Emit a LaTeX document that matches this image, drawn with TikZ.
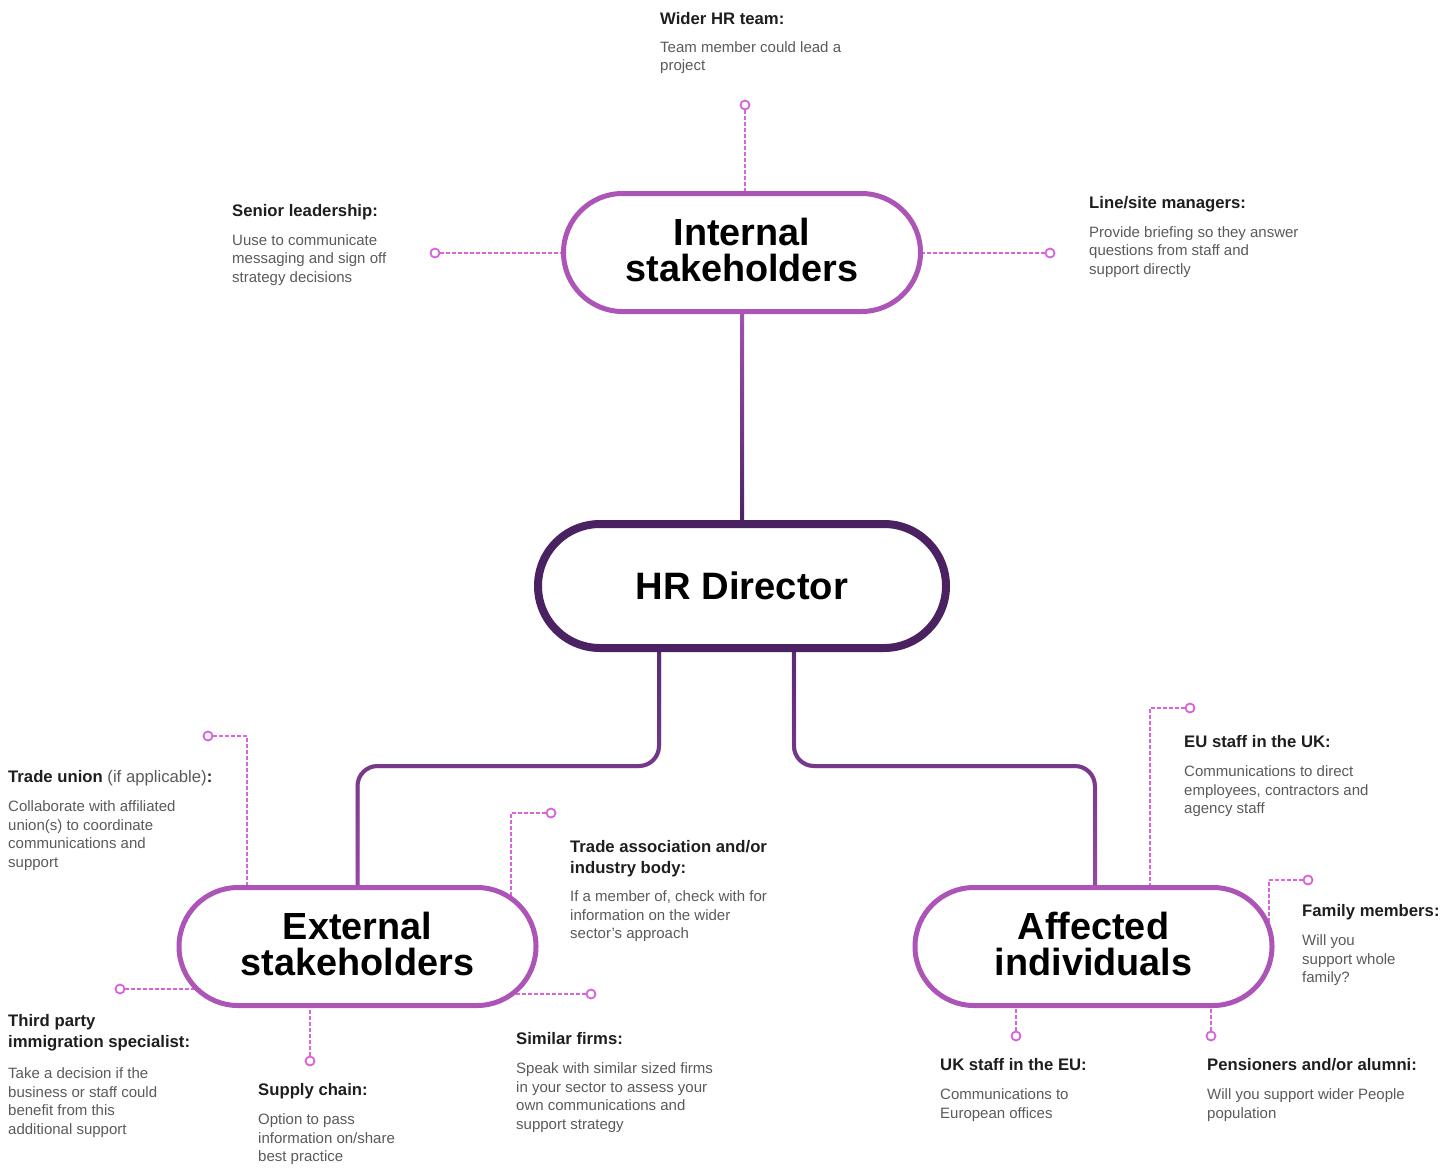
\documentclass[tikz,border=0pt]{standalone}
\usepackage{fontspec}
\setmainfont{Liberation Sans}
\usetikzlibrary{shapes.misc,calc,fadings}
\definecolor{nodep}{HTML}{AD55B6}
\definecolor{hrp}{HTML}{4A2262}
\definecolor{lightp}{HTML}{A452B3}
\definecolor{dashp}{HTML}{D764DA}
\definecolor{headc}{HTML}{1E1E1E}
\definecolor{bodyc}{HTML}{5A5A5A}
\pgfdeclarelayer{bg}
\pgfsetlayers{bg,main}
\tikzfading[name=fadetop, top color=transparent!0, bottom color=transparent!100]
\begin{document}
\begin{tikzpicture}[x=1pt,y=-1pt,
  stake/.style={rounded rectangle, draw=nodep, line width=5pt, fill=white,
    minimum width=357pt, minimum height=118pt, inner sep=0pt, align=center,
    text=black, text depth=5pt, font=\fontsize{37.8}{36}\selectfont\bfseries},
  hrbox/.style={rounded rectangle, draw=hrp, line width=8pt, fill=white,
    minimum width=408pt, minimum height=124pt, inner sep=0pt, align=center,
    text=black, font=\fontsize{38.2}{40}\selectfont\bfseries},
  dot/.style={circle, draw=dashp, line width=1.8pt, fill=white, minimum size=9pt, inner sep=0pt},
  dashc/.style={draw=dashp, line width=1.1pt, dash pattern=on 3.5pt off 2.5pt},
  solidc/.style={line width=4pt},
  hd/.style={anchor=north west, inner sep=0pt, text=headc, align=left,
    font=\fontsize{16.7}{21}\selectfont\bfseries},
  bd/.style={anchor=north west, inner sep=0pt, text=bodyc, align=left,
    font=\fontsize{15}{18.7}\selectfont}
]
\useasboundingbox (0,0) rectangle (1455,1167);

% main nodes
\node[stake] (int) at (742,252.5) {Internal\\stakeholders};
\node[hrbox] (hr) at (742,586) {HR Director};
\node[stake] (ext) at (357.5,946.5) {External\\stakeholders};
\node[stake] (aff) at (1093.5,946.5) {Affected\\individuals};

% dots
\node[dot] (d1) at (745,105) {};
\node[dot] (d2) at (435,253) {};
\node[dot] (d3) at (1050,253) {};
\node[dot] (d4) at (208,736) {};
\node[dot] (d5) at (551,813) {};
\node[dot] (d6) at (120,989) {};
\node[dot] (d7) at (310,1061) {};
\node[dot] (d8) at (591,994) {};
\node[dot] (d9) at (1190,708) {};
\node[dot] (d10) at (1308,880) {};
\node[dot] (d11) at (1016,1036) {};
\node[dot] (d12) at (1211,1036) {};

% hidden ends and junctions
\coordinate (e4) at (247,920);
\coordinate (e5) at (511,920);
\coordinate (e9) at (1150,930);
\coordinate (e10) at (1269,946);
\coordinate (hl) at (659,586);
\coordinate (jl) at (357.5,766);
\coordinate (hr2) at (794,586);
\coordinate (jr) at (1095,766);

\begin{pgfonlayer}{bg}
  % solid connectors
  \shade[top color=lightp, bottom color=hrp] ($(int.south)+(-2,-3)$) rectangle ($(hr.north)+(2,3)$);
  \draw[solidc, lightp, rounded corners=20pt] (hl) |- (jl) -- (jl |- ext.center);
  \draw[solidc, hrp, rounded corners=20pt, path fading=fadetop] (hl) |- (jl) -- (jl |- ext.center);
  \draw[solidc, lightp, rounded corners=20pt] (hr2) |- (jr) -- (jr |- aff.center);
  \draw[solidc, hrp, rounded corners=20pt, path fading=fadetop] (hr2) |- (jr) -- (jr |- aff.center);
  % dashed connectors
  \draw[dashc] (d1) -- (d1 |- int.center);
  \draw[dashc] (d2) -- (d2 -| int.center);
  \draw[dashc] (d3) -- (d3 -| int.center);
  \draw[dashc] (d4) -| (e4);
  \draw[dashc] (d5) -| (e5);
  \draw[dashc] (d6) -- (d6 -| ext.center);
  \draw[dashc] (d7) -- (d7 |- ext.center);
  \draw[dashc] (d8) -- (d8 -| ext.center);
  \draw[dashc] (d9) -| (e9);
  \draw[dashc] (d10) -| (e10);
  \draw[dashc] (d11) -- (d11 |- aff.center);
  \draw[dashc] (d12) -- (d12 |- aff.center);
\end{pgfonlayer}

% texts
\node[hd] (h1) at (660,9.3) {\strut Wider HR team:};
\node[bd] (b1) at (660,39) {\strut Team member could lead a\\project};

\node[hd] (h2) at (232,201.3) {\strut Senior leadership:};
\node[bd] (b2) at (232,232) {\strut Uuse to communicate\\messaging and sign off\\strategy decisions};

\node[hd] (h3) at (1089,193.3) {\strut Line/site managers:};
\node[bd] (b3) at (1089,224) {\strut Provide briefing so they answer\\questions from staff and\\support directly};

\node[hd] (h4) at (8,767.3) {\strut Trade union {\mdseries\color{bodyc}(if applicable)}:};
\node[bd] (b4) at (8,798) {\strut Collaborate with affiliated\\union(s) to coordinate\\communications and\\support};

\node[hd] (h5) at (570,837.3) {\strut Trade association and/or\\industry body:};
\node[bd] (b5) at (570,888) {\strut If a member of, check with for\\information on the wider\\sector’s approach};

\node[hd] (h6) at (8,1011.3) {\strut Third party\\immigration specialist:};
\node[bd] (b6) at (8,1065) {\strut Take a decision if the\\business or staff could\\benefit from this\\additional support};

\node[hd] (h7) at (258,1080.3) {\strut Supply chain:};
\node[bd] (b7) at (258,1111) {\strut Option to pass\\information on/share\\best practice};

\node[hd] (h8) at (516,1029.3) {\strut Similar firms:};
\node[bd] (b8) at (516,1060) {\strut Speak with similar sized firms\\in your sector to assess your\\own communications and\\support strategy};

\node[hd] (h9) at (1184,732.3) {\strut EU staff in the UK:};
\node[bd] (b9) at (1184,763) {\strut Communications to direct\\employees, contractors and\\agency staff};

\node[hd] (h10) at (1302,901.3) {\strut Family members:};
\node[bd] (b10) at (1302,932) {\strut Will you\\support whole\\family?};

\node[hd] (h11) at (940,1055.3) {\strut UK staff in the EU:};
\node[bd] (b11) at (940,1086) {\strut Communications to\\European offices};

\node[hd] (h12) at (1207,1055.3) {\strut Pensioners and/or alumni:};
\node[bd] (b12) at (1207,1086) {\strut Will you support wider People\\population};
\end{tikzpicture}
\end{document}
